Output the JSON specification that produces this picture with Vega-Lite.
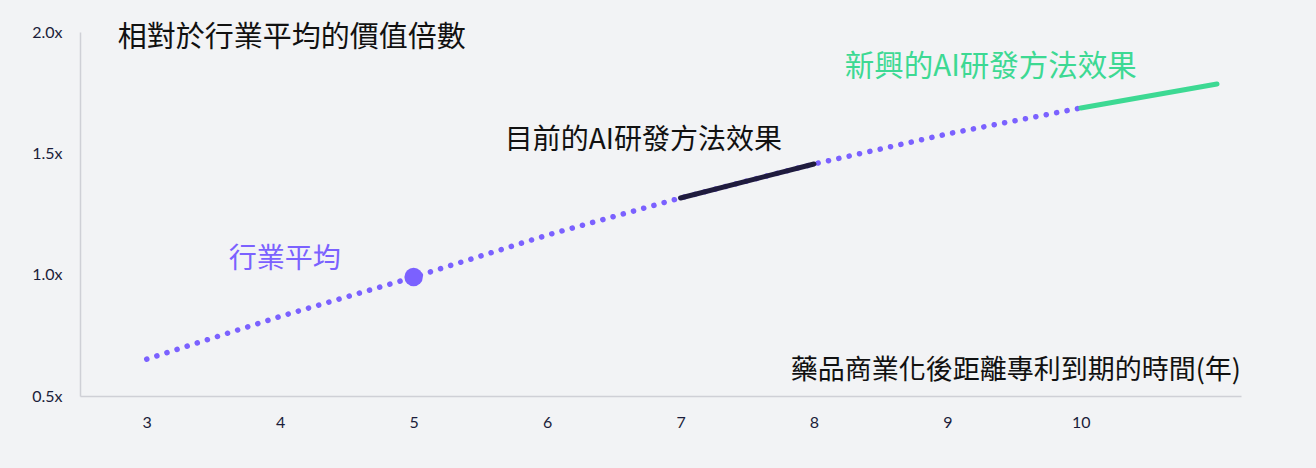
{
  "$schema": "https://vega.github.io/schema/vega-lite/v6.json",
  "autosize": {"type": "none"},
  "padding": {"left": 80, "top": 32, "right": 75, "bottom": 72},
  "width": 1161,
  "height": 364,
  "background": "#f2f3f5",
  "config": {
    "view": {"stroke": null},
    "axis": {"grid": false, "ticks": false, "domainColor": "#cfd0d6", "domainWidth": 1.5, "title": null}
  },
  "datasets": {
    "trend": [
      {"x": 3, "y": 0.652}, {"x": 4, "y": 0.828}, {"x": 5, "y": 0.99}, {"x": 6, "y": 1.163},
      {"x": 7, "y": 1.316}, {"x": 8, "y": 1.456}, {"x": 9, "y": 1.58}, {"x": 10, "y": 1.687}
    ],
    "current": [{"x": 7, "y": 1.316}, {"x": 8, "y": 1.456}],
    "emerging": [{"x": 10, "y": 1.687}, {"x": 11.02, "y": 1.786}],
    "avg": [{"x": 5, "y": 0.99}],
    "labels": [
      {"x": 2.783, "y": 1.975, "text": "相對於行業平均的價值倍數", "kind": "title"},
      {"x": 11.2, "y": 0.605, "text": "藥品商業化後距離專利到期的時間(年)", "kind": "xtitle"},
      {"x": 5.683, "y": 1.551, "text": "目前的AI研發方法效果", "kind": "current"},
      {"x": 8.231, "y": 1.856, "text": "新興的AI研發方法效果", "kind": "emerging"},
      {"x": 3.615, "y": 1.0625, "text": "行業平均", "kind": "avg"}
    ]
  },
  "encoding": {
    "x": {"field": "x", "type": "quantitative", "scale": {"domain": [2.5, 11.2], "nice": false, "zero": false},
      "axis": {"values": [3, 4, 5, 6, 7, 8, 9, 10], "labelPadding": 18, "labelFont": "Lato", "labelFontSize": 16, "labelColor": "#1b1d3a"}},
    "y": {"field": "y", "type": "quantitative", "scale": {"domain": [0.5, 2.0], "nice": false, "zero": false},
      "axis": {"values": [0.5, 1.0, 1.5, 2.0], "labelPadding": 18, "labelFont": "Lato", "labelFontSize": 16, "labelColor": "#1b1d3a", "labelExpr": "format(datum.value, '.1f') + 'x'"}}
  },
  "layer": [
    {"data": {"name": "trend"}, "mark": {"type": "line", "color": "#7b61ff", "strokeWidth": 5.5, "strokeDash": [0.1, 10.5], "strokeCap": "round"}},
    {"data": {"name": "current"}, "mark": {"type": "line", "color": "#1f1b3d", "strokeWidth": 5, "strokeCap": "round"}},
    {"data": {"name": "emerging"}, "mark": {"type": "line", "color": "#3dd993", "strokeWidth": 5, "strokeCap": "round"}},
    {"data": {"name": "avg"}, "mark": {"type": "point", "filled": true, "color": "#7b61ff", "size": 340, "opacity": 1}},
    {"data": {"name": "labels"}, "transform": [{"filter": "datum.kind == 'title'"}],
      "mark": {"type": "text", "font": "Noto Sans CJK TC", "fontSize": 29, "align": "left", "baseline": "middle", "color": "#111111"},
      "encoding": {"text": {"field": "text"}}},
    {"data": {"name": "labels"}, "transform": [{"filter": "datum.kind == 'xtitle'"}],
      "mark": {"type": "text", "font": "Noto Sans CJK TC", "fontSize": 27, "align": "right", "baseline": "middle", "color": "#111111"},
      "encoding": {"text": {"field": "text"}}},
    {"data": {"name": "labels"}, "transform": [{"filter": "datum.kind == 'current'"}],
      "mark": {"type": "text", "font": "Noto Sans CJK TC", "fontSize": 28, "align": "left", "baseline": "middle", "color": "#111111"},
      "encoding": {"text": {"field": "text"}}},
    {"data": {"name": "labels"}, "transform": [{"filter": "datum.kind == 'emerging'"}],
      "mark": {"type": "text", "font": "Noto Sans CJK TC", "fontSize": 29.5, "align": "left", "baseline": "middle", "color": "#3dd993"},
      "encoding": {"text": {"field": "text"}}},
    {"data": {"name": "labels"}, "transform": [{"filter": "datum.kind == 'avg'"}],
      "mark": {"type": "text", "font": "Noto Sans CJK TC", "fontSize": 28, "align": "left", "baseline": "middle", "color": "#7b61ff"},
      "encoding": {"text": {"field": "text"}}}
  ]
}
